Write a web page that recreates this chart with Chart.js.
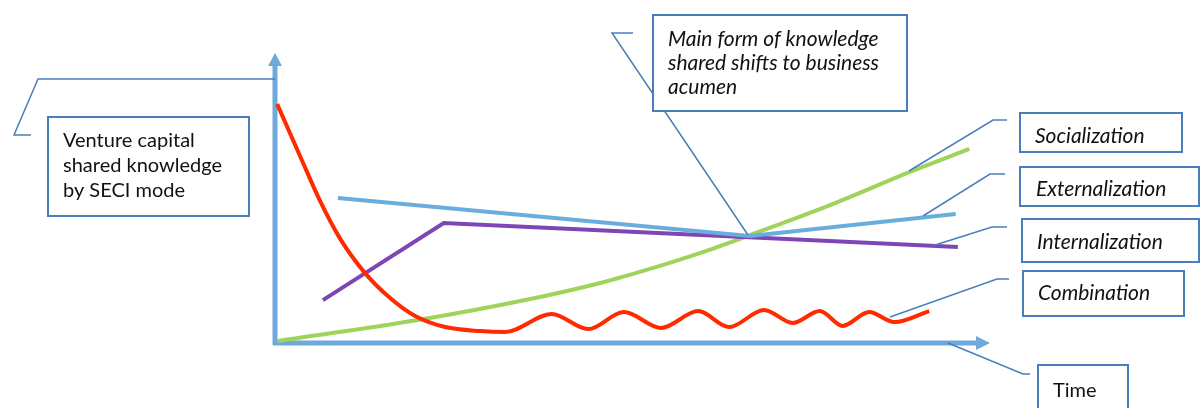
<!DOCTYPE html>
<html>
<head>
<meta charset="utf-8">
<title>Venture capital shared knowledge by SECI mode</title>
<script src="https://cdn.jsdelivr.net/npm/chart.js@4.4.1/dist/chart.umd.min.js"></script>
<style>
  html, body { margin: 0; padding: 0; background: #ffffff; }
  #wrap { width: 1200px; height: 408px; }
</style>
</head>
<body>
<div id="wrap"><canvas id="seci" width="1200" height="408"></canvas></div>
<script>
// Time runs 0..100 along the horizontal axis, shared knowledge 0..100 up the vertical axis.

// Socialization: grows slowly at first, then faster
const socializationTime  = [0.3, 20.0, 35.0, 45.5, 52.9, 59.4, 66.4, 78.0, 88.8, 97.1];
const socializationLevel = [0.7, 7.9, 14.8, 20.7, 25.9, 31.0, 37.2, 47.9, 59.0, 66.9];

// Externalization: declines to the turning point, then rises again
const externalizationTime  = [8.8, 66.4, 95.2];
const externalizationLevel = [50.0, 36.9, 44.5];

// Internalization: climbs early, then eases off slowly
const internalizationTime  = [6.7, 23.6, 95.5];
const internalizationLevel = [14.8, 41.4, 33.1];

// Combination: dominant at the start, drops sharply, then oscillates low
const combinationTime  = [0.3, 3.5, 6.3, 9.1, 12.6, 16.1, 19.6, 23.8, 28.7, 32.2,
                          38.7, 43.8, 48.8, 54.0, 59.2, 63.5, 68.4, 72.4, 76.2, 79.4, 83.1, 86.6, 91.5];
const combinationLevel = [82.4, 64.5, 49.0, 36.0, 24.1, 15.5, 9.3, 5.5, 4.1, 3.8,
                          10.0, 4.8, 10.7, 5.2, 11.0, 5.5, 11.4, 6.9, 11.0, 5.9, 10.7, 7.2, 11.0];

const seriesNames = ['Socialization', 'Externalization', 'Internalization', 'Combination'];
const axisTitleY = ['Venture capital', 'shared knowledge', 'by SECI mode'];
const axisTitleX = 'Time';
const turningPointNote = ['Main form of knowledge', 'shared shifts to business', 'acumen'];

const toPoints = (xs, ys) => xs.map((x, i) => ({ x: x, y: ys[i] }));

const FONT = 'Lato, "Open Sans", "Liberation Sans", sans-serif';
const CALLOUT = '#4a7ebb';
const AXIS = '#6ea9db';

// Draws the two arrow axes underneath the series
const arrowAxes = {
  id: 'arrowAxes',
  beforeDatasetsDraw(chart) {
    const { ctx, scales: { x, y } } = chart;
    const x0 = x.getPixelForValue(0), y0 = y.getPixelForValue(0);
    const xEnd = x.getPixelForValue(100), yEnd = y.getPixelForValue(100);
    ctx.save();
    ctx.strokeStyle = AXIS;
    ctx.fillStyle = AXIS;
    ctx.lineWidth = 5;
    ctx.lineCap = 'butt';
    ctx.beginPath();
    ctx.moveTo(x0, y0 + 2);
    ctx.lineTo(x0, yEnd + 12);
    ctx.moveTo(x0 - 2, y0);
    ctx.lineTo(xEnd - 12, y0);
    ctx.stroke();
    ctx.beginPath();
    ctx.moveTo(x0, yEnd);
    ctx.lineTo(x0 - 7, yEnd + 13);
    ctx.lineTo(x0 + 7, yEnd + 13);
    ctx.closePath();
    ctx.fill();
    ctx.beginPath();
    ctx.moveTo(xEnd, y0);
    ctx.lineTo(xEnd - 14, y0 - 7);
    ctx.lineTo(xEnd - 14, y0 + 7);
    ctx.closePath();
    ctx.fill();
    ctx.restore();
  }
};

// Framed labels with their leader lines
const callouts = {
  id: 'callouts',
  afterDatasetsDraw(chart) {
    const { ctx } = chart;
    const items = [
      { lines: axisTitleY, italic: false, box: [48, 117, 201, 99], tx: 63, ty: [147, 172, 197],
        leader: [[31, 135], [14, 135], [38, 79], [275, 79]] },
      { lines: turningPointNote, italic: true, box: [653, 15, 254, 96], tx: 668, ty: [46, 70, 94],
        leader: [[633, 33], [612, 33], [748, 235]] },
      { lines: [seriesNames[0]], italic: true, box: [1020, 113, 162, 39], tx: 1035, ty: [143],
        leader: [[909, 171], [993, 120], [1007, 120]] },
      { lines: [seriesNames[1]], italic: true, box: [1020, 167, 179, 39], tx: 1036, ty: [196],
        leader: [[923, 216], [990, 174], [1005, 174]] },
      { lines: [seriesNames[2]], italic: true, box: [1022, 219, 177, 43], tx: 1037, ty: [249],
        leader: [[932, 246], [992, 227], [1007, 227]] },
      { lines: [seriesNames[3]], italic: true, box: [1023, 271, 161, 45], tx: 1038, ty: [300],
        leader: [[890, 317], [997, 279], [1009, 279]] },
      { lines: [axisTitleX], italic: false, box: [1038, 365, 90, 60], tx: 1053, ty: [397],
        leader: [[948, 343], [1023, 374], [1030, 374]] }
    ];
    ctx.save();
    items.forEach(it => {
      ctx.strokeStyle = CALLOUT;
      ctx.lineWidth = 1.5;
      ctx.beginPath();
      it.leader.forEach((p, i) => i ? ctx.lineTo(p[0], p[1]) : ctx.moveTo(p[0], p[1]));
      ctx.stroke();
      ctx.fillStyle = '#ffffff';
      ctx.fillRect(it.box[0], it.box[1], it.box[2], it.box[3]);
      ctx.lineWidth = 2;
      ctx.strokeRect(it.box[0], it.box[1], it.box[2], it.box[3]);
      ctx.fillStyle = '#111111';
      ctx.font = (it.italic ? 'italic 21px ' : '20px ') + FONT;
      ctx.textBaseline = 'alphabetic';
      it.lines.forEach((s, i) => ctx.fillText(s, it.tx, it.ty[i]));
    });
    ctx.restore();
  }
};

new Chart(document.getElementById('seci'), {
  type: 'line',
  data: {
    datasets: [
      { label: seriesNames[3], data: toPoints(combinationTime, combinationLevel),
        borderColor: '#ff2a00', borderWidth: 4, cubicInterpolationMode: 'monotone', order: 1 },
      { label: seriesNames[0], data: toPoints(socializationTime, socializationLevel),
        borderColor: '#9fd35b', borderWidth: 4, cubicInterpolationMode: 'monotone', order: 4 },
      { label: seriesNames[1], data: toPoints(externalizationTime, externalizationLevel),
        borderColor: '#6aaddd', borderWidth: 4, tension: 0, order: 2 },
      { label: seriesNames[2], data: toPoints(internalizationTime, internalizationLevel),
        borderColor: '#7e45b5', borderWidth: 4, tension: 0, order: 3 }
    ]
  },
  options: {
    responsive: false,
    animation: false,
    devicePixelRatio: 1,
    layout: { padding: { left: 275, right: 210, top: 53, bottom: 65 } },
    elements: { point: { radius: 0, hoverRadius: 0 }, line: { fill: false, borderCapStyle: 'butt', borderJoinStyle: 'miter' } },
    datasets: { line: { clip: false } },
    scales: {
      x: { type: 'linear', min: 0, max: 100, display: false },
      y: { type: 'linear', min: 0, max: 100, display: false }
    },
    plugins: { legend: { display: false }, tooltip: { enabled: false } },
    events: []
  },
  plugins: [arrowAxes, callouts]
});
</script>
</body>
</html>
